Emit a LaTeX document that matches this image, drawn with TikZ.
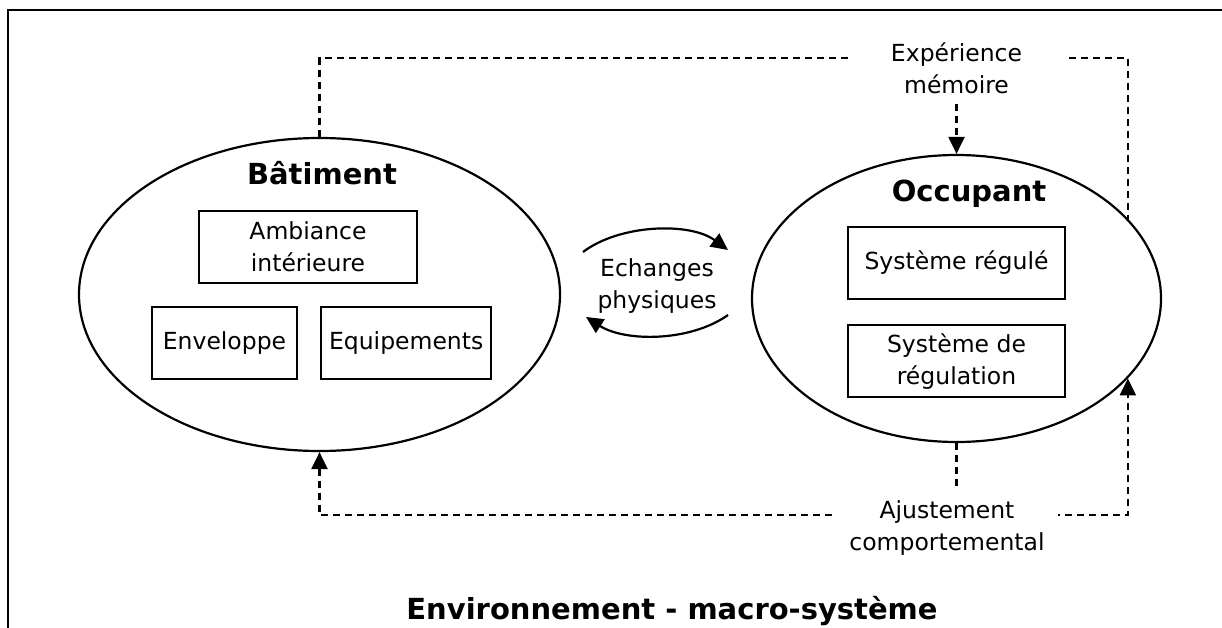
\documentclass[tikz,border=0pt]{standalone}
\usepackage{fontspec}
\setmainfont{DejaVu Sans}
\usepackage{tikz}
\usetikzlibrary{
  arrows.meta,
  positioning,
  shapes.geometric
}
\tikzset{
  zone/.style={draw, ellipse, line width=2.2pt, inner sep=0pt},
  partbox/.style={
    draw,
    line width=2.2pt,
    minimum height=72pt,
    inner sep=0pt,
    align=center,
    font=\fontsize{23.5}{32}\selectfont
  },
  bigtitle/.style={font=\bfseries\fontsize{29}{34}\selectfont},
  lbl/.style={align=center, fill=white, inner xsep=0pt, font=\fontsize{23.5}{32}\selectfont},
  dashline/.style={line width=2.2pt, dash pattern=on 7pt off 5pt},
  dasharrow/.style={dashline, -{Triangle[length=17pt,width=16pt]}},
  arrow/.style={line width=2.2pt, -{Triangle[length=17pt,width=16pt]}}
}

\begin{document}
\begin{tikzpicture}[x=1pt, y=-1pt, node distance=24pt and 22pt]
  \useasboundingbox (0,0) rectangle (1222,628);
  \clip (0,0) rectangle (1222,628);

  % cadre
  \draw[line width=2.6pt] (8,660) -- (8,10) -- (1240,10);

  % batiment
  \node[zone, minimum width=481pt, minimum height=313pt] (bat) at (319.5,294.5) {};
  \node[bigtitle, anchor=base] (battitle) at (322,185) {Bâtiment};
  \node[partbox, minimum width=218pt] (amb) at (308,247) {Ambiance\\intérieure};
  \node[partbox, minimum width=145pt] (env) at (224.5,343) {Enveloppe};
  \node[partbox, minimum width=170pt, right=of env] (equ) {Equipements};

  % occupant
  \node[zone, minimum width=409pt, minimum height=287pt] (occ) at (956.5,298.5) {};
  \node[bigtitle, anchor=base] (occtitle) at (969,202) {Occupant};
  \node[partbox, minimum width=217pt] (sreg) at (956.5,263) {Système régulé};
  \node[partbox, minimum width=217pt, below=of sreg] (sdr) {Système de\\régulation};

  % echanges
  \node[lbl] (ech) at (657,286) {Echanges\\physiques};
  \coordinate (e1) at (583,252);
  \coordinate (e2) at (728,250);
  \coordinate (e3) at (728,315);
  \coordinate (e4) at (586,317);
  \draw[arrow] (e1) .. controls (620,224) and (690,222) .. (e2);
  \draw[arrow] (e3) .. controls (690,342) and (625,342) .. (e4);

  % boucles
  \coordinate (tl) at (960,58);
  \coordinate (bl) at (960,515);
  \draw[dashline] (bat.north) |- (tl) -| (occ.25.6);
  \draw[dashline, {Triangle[length=17pt,width=16pt]}-{Triangle[length=17pt,width=16pt]}]
    (bat.south) |- (bl) -| (occ.-25.6);

  \node[lbl, minimum width=217pt, inner ysep=10pt] (exp) at (956.5,68) {Expérience\\mémoire};
  \node[lbl, minimum width=222pt, inner ysep=10pt] (adj) at (947,528) {Ajustement\\comportemental};
  \draw[dasharrow] (exp.south) -- (occ.north);
  \draw[dashline] (occ.south) -- (occ.south |- adj.north);

  \node[bigtitle, anchor=base] (envtitle) at (672,619) {Environnement - macro-système};
\end{tikzpicture}
\end{document}
